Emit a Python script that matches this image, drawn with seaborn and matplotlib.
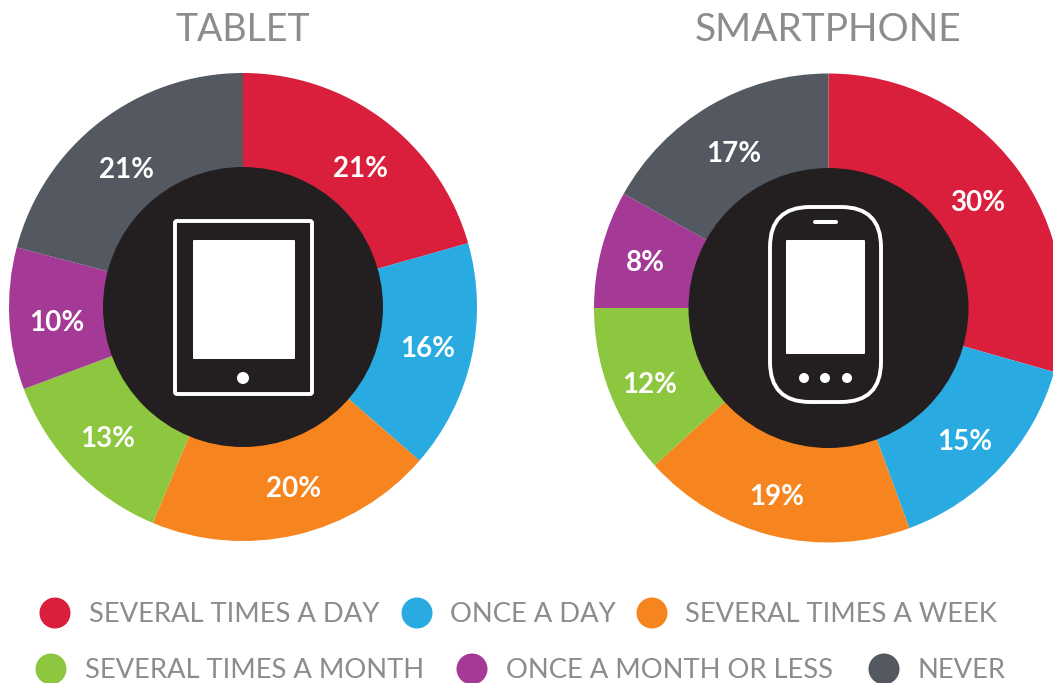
import matplotlib
matplotlib.use("Agg")
import matplotlib.pyplot as plt
from matplotlib.patches import Circle, FancyBboxPatch
import seaborn as sns

sns.set_theme(style="white")
plt.rcParams['font.family'] = ['Lato', 'DejaVu Sans']

# data
categories = ["SEVERAL TIMES A DAY", "ONCE A DAY", "SEVERAL TIMES A WEEK",
              "SEVERAL TIMES A MONTH", "ONCE A MONTH OR LESS", "NEVER"]
tablet_labels = [21, 16, 20, 13, 10, 21]
phone_labels = [30, 15, 19, 12, 8, 17]
tablet_slices = [20.6, 15.8, 19.9, 13.0, 9.8, 20.9]
phone_slices = [29.4, 15.0, 18.9, 11.7, 8.1, 16.9]
colors = ["#da1f3d", "#29abe2", "#f6851f", "#8dc63f", "#a43a96", "#545860"]
hub = "#231f20"
grey = "#8a8c8e"

W, H = 1053, 683
fig = plt.figure(figsize=(W / 100, H / 100), dpi=100, facecolor="white")
ax = fig.add_axes([0, 0, 1, 1])


def rounded(x0, y0, x1, y1, rad, **kw):
    ax.add_patch(FancyBboxPatch((x0, y0), x1 - x0, y1 - y0,
                                boxstyle=f"round,pad=0,rounding_size={rad}", **kw))


# the y axis is flipped, so mirror the sweep: draw clockwise from the top
centers = [(243, 307), (828.5, 308)]
radius = [234, 234.5]
for vals, (cx, cy), r in zip([tablet_slices, phone_slices], centers, radius):
    ax.pie(vals, colors=colors, startangle=-90, counterclock=True, radius=r, center=(cx, cy),
           frame=True, wedgeprops={"linewidth": 0})
    ax.add_patch(Circle((cx, cy), 140, color=hub, lw=0, zorder=5))

ax.set_xlim(0, W)
ax.set_ylim(H, 0)
ax.set_aspect("equal")
ax.axis("off")

# percent labels
tablet_pos = [(360, 169), (428, 349), (294, 489), (108, 439), (57, 323), (126, 170)]
phone_pos = [(978, 203), (965, 442), (777, 497), (650, 385), (645, 263), (734, 154)]
for vals, pos in zip([tablet_labels, phone_labels], [tablet_pos, phone_pos]):
    for v, (x, y) in zip(vals, pos):
        ax.text(x, y, f"{v}%", color="white", fontsize=20, fontweight="bold",
                ha="center", va="center", zorder=6)

ax.text(243, 30, "TABLET", color=grey, fontsize=27, ha="center", va="center")
ax.text(828, 30, "SMARTPHONE", color=grey, fontsize=28, ha="center", va="center")

# tablet icon
rounded(175, 221, 312, 394, 2, fc=hub, ec="white", lw=2.8, zorder=7)
rounded(193, 240, 295, 359, 1, fc="white", ec="none", zorder=8)
ax.add_patch(Circle((243, 378), 6, fc="white", ec="none", zorder=8))

# phone icon
rounded(770, 207, 881, 402, 40, fc=hub, ec="white", lw=2.8, zorder=7)
rounded(786, 240, 865, 354, 1, fc="white", ec="none", zorder=8)
rounded(813, 220, 838, 224, 2, fc="white", ec="none", zorder=8)
for dx in [804, 825, 847]:
    ax.add_patch(Circle((dx, 378), 5, fc="white", ec="none", zorder=8))

# legend
legend_dots = [(55, 613), (417, 613), (652, 613), (51, 669), (472, 669), (884, 669)]
legend_text = [(89, 615), (450, 615), (685, 615), (85, 671), (506, 671), (918, 671)]
for cat, col, d, t in zip(categories, colors, legend_dots, legend_text):
    ax.add_patch(Circle(d, 15.5, fc=col, ec="none"))
    ax.text(t[0], t[1], cat, color=grey, fontsize=19.7, ha="left", va="center")

fig.savefig("out.png", dpi=100)
